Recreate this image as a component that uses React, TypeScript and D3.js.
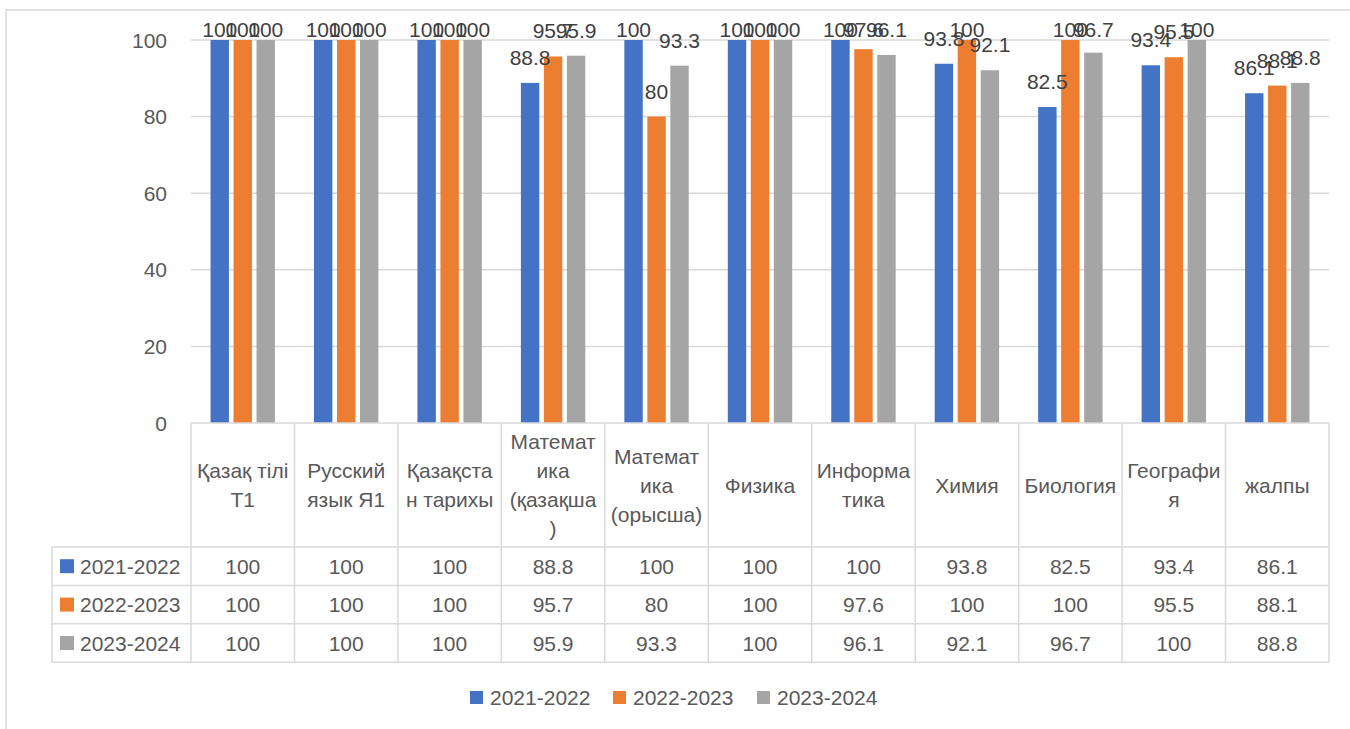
import React from "react";
import * as d3 from "d3";

const categories = [
  "Қазақ тілі\nТ1",
  "Русский\nязык Я1",
  "Қазақста\nн тарихы",
  "Математ\nика\n(қазақша\n)",
  "Математ\nика\n(орысша)",
  "Физика",
  "Информа\nтика",
  "Химия",
  "Биология",
  "Географи\nя",
  "жалпы",
];
const seriesNames = ["2021-2022", "2022-2023", "2023-2024"];
const s2021 = [100, 100, 100, 88.8, 100, 100, 100, 93.8, 82.5, 93.4, 86.1];
const s2022 = [100, 100, 100, 95.7, 80, 100, 97.6, 100, 100, 95.5, 88.1];
const s2023 = [100, 100, 100, 95.9, 93.3, 100, 96.1, 92.1, 96.7, 100, 88.8];
const seriesValues = [s2021, s2022, s2023];
const colors = ["#4472C4", "#ED7D31", "#A5A5A5"];
const yTicks = [0, 20, 40, 60, 80, 100];

const W = 1350;
const H = 729;
const FONT = "'Liberation Sans', Arial, sans-serif";
const TEXT = "#595959";
const GRID = "#D9D9D9";

export default function App() {
  const left = 191;
  const right = 1329;
  const top = 40;
  const bottom = 423;
  const headerBottom = 547;
  const rowH = 38.4;
  const tableLeft = 52;

  const x0 = d3.scaleBand<number>().domain(d3.range(categories.length)).range([left, right]);
  const cw = x0.bandwidth();
  const groupW = 69;
  const x1 = d3
    .scaleBand<number>()
    .domain(d3.range(seriesNames.length))
    .range([(cw - groupW) / 2, (cw + groupW) / 2])
    .paddingInner(0.2)
    .paddingOuter(0.1);
  const y = d3.scaleLinear().domain([0, 100]).range([bottom, top]);

  const rowsY = seriesNames.map((_, i) => headerBottom + i * rowH);
  const tableBottom = headerBottom + seriesNames.length * rowH;

  const legendX = [470, 613, 757];

  return (
    <svg
      width={W}
      height={H}
      style={{ position: "absolute", left: 0, top: 0, display: "block", background: "#fff" }}
      fontFamily={FONT}
    >
      <rect x={6} y={10} width={W + 10} height={H + 10} fill="#fff" stroke={GRID} strokeWidth={1.5} />
      {/* gridlines */}
      {yTicks.map((t) => (
        <g key={t}>
          {t > 0 && <line x1={left} x2={right} y1={y(t)} y2={y(t)} stroke={GRID} strokeWidth={1.5} />}
          <text x={167} y={y(t)} textAnchor="end" dominantBaseline="central" fontSize={21} fill={TEXT}>
            {t}
          </text>
        </g>
      ))}
      {/* bars */}
      {seriesValues.map((vals, si) =>
        vals.map((v, ci) => (
          <rect
            key={`b${si}-${ci}`}
            x={(x0(ci) as number) + (x1(si) as number)}
            y={y(v)}
            width={x1.bandwidth()}
            height={bottom - y(v)}
            fill={colors[si]}
          />
        ))
      )}
      {/* data labels */}
      {seriesValues.map((vals, si) =>
        vals.map((v, ci) => (
          <text
            key={`l${si}-${ci}`}
            x={(x0(ci) as number) + (x1(si) as number) + x1.bandwidth() / 2}
            y={Math.max(y(v) - 18, 37)}
            textAnchor="middle"
            fontSize={21}
            fill="#404040"
          >
            {v}
          </text>
        ))
      )}
      {/* table lines */}
      <g stroke={GRID} strokeWidth={1.5} fill="none">
        <line x1={left} x2={right} y1={bottom} y2={bottom} />
        {[headerBottom, ...rowsY.slice(1), tableBottom].map((yy, i) => (
          <line key={`h${i}`} x1={tableLeft} x2={right} y1={yy} y2={yy} />
        ))}
        <line x1={tableLeft} x2={tableLeft} y1={headerBottom} y2={tableBottom} />
        {categories.map((_, ci) => (
          <line key={`v${ci}`} x1={x0(ci)} x2={x0(ci)} y1={bottom} y2={tableBottom} />
        ))}
        <line x1={right} x2={right} y1={bottom} y2={tableBottom} />
      </g>
      {/* header text */}
      {categories.map((c, ci) => {
        const lines = c.split("\n");
        const cx = (x0(ci) as number) + cw / 2;
        const cy = (bottom + headerBottom) / 2;
        const lh = 29;
        return (
          <text key={`c${ci}`} textAnchor="middle" fontSize={21} fill={TEXT}>
            {lines.map((ln, li) => (
              <tspan key={li} x={cx} y={cy + (li - (lines.length - 1) / 2) * lh} dominantBaseline="central">
                {ln}
              </tspan>
            ))}
          </text>
        );
      })}
      {/* table rows */}
      {seriesNames.map((s, si) => {
        const cy = rowsY[si] + rowH / 2;
        return (
          <g key={`r${si}`}>
            <rect x={60} y={cy - 7} width={14} height={14} fill={colors[si]} />
            <text x={80} y={cy} dominantBaseline="central" fontSize={21} fill={TEXT}>
              {s}
            </text>
            {seriesValues[si].map((v, ci) => (
              <text
                key={ci}
                x={(x0(ci) as number) + cw / 2}
                y={cy}
                textAnchor="middle"
                dominantBaseline="central"
                fontSize={21}
                fill={TEXT}
              >
                {v}
              </text>
            ))}
          </g>
        );
      })}
      {/* legend */}
      {seriesNames.map((s, si) => (
        <g key={`lg${si}`}>
          <rect x={legendX[si]} y={691} width={13} height={13} fill={colors[si]} />
          <text x={legendX[si] + 20} y={697.5} dominantBaseline="central" fontSize={21} fill={TEXT}>
            {s}
          </text>
        </g>
      ))}
    </svg>
  );
}
